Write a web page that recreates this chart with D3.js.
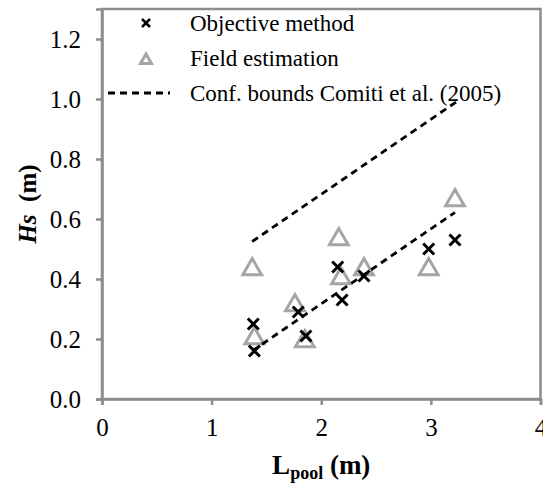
<!DOCTYPE html>
<html><head><meta charset="utf-8">
<script src="https://cdn.jsdelivr.net/npm/d3@7"></script>
<style>
html,body{margin:0;padding:0;background:#fff;}
svg{display:block;}
</style></head>
<body>
<svg id="chart" width="543" height="487"></svg>
<script>
// Data
const objX = [1.38, 1.39, 1.79, 1.86, 2.15, 2.19, 2.39, 2.98, 3.22];
const objY = [0.25, 0.16, 0.29, 0.21, 0.44, 0.33, 0.41, 0.50, 0.53];
const fieldX = [1.37, 1.39, 1.76, 1.85, 2.16, 2.18, 2.39, 2.98, 3.22];
const fieldY = [0.44, 0.21, 0.32, 0.20, 0.54, 0.41, 0.44, 0.44, 0.67];
const upperX = [1.37, 3.23];
const upperY = [0.525, 0.99];
const lowerX = [1.37, 3.22];
const lowerY = [0.16, 0.622];
const xTicks = [0, 1, 2, 3, 4];
const yTicks = [0, 0.2, 0.4, 0.6, 0.8, 1.0, 1.2];
const legendLabels = ["Objective method", "Field estimation", "Conf. bounds Comiti et al. (2005)"];

const FONT = "'Liberation Serif'";
const svg = d3.select("#chart");
const L = 102, R = 540.5, T = 9, B = 399;
const x = d3.scaleLinear().domain([0, 4]).range([L, R]);
const y = d3.scaleLinear().domain([0, 1.3]).range([B, T]);
const gray = "#8c8c8c";

// frame
svg.append("rect").attr("x", L).attr("y", T).attr("width", R - L).attr("height", B - T)
  .attr("fill", "none").attr("stroke", gray).attr("stroke-width", 2.5);

const yAxis = d3.axisLeft(y).tickValues(yTicks).tickFormat(d3.format(".1f")).tickSize(6).tickPadding(15);
const gy = svg.append("g").attr("transform", `translate(${L},0)`).call(yAxis);
const xAxis = d3.axisBottom(x).tickValues(xTicks).tickFormat(d3.format("d")).tickSize(6).tickPadding(13);
const gx = svg.append("g").attr("transform", `translate(0,${B})`).call(xAxis);
[gx, gy].forEach(g => {
  g.attr("font-family", FONT).attr("font-size", 25);
  g.select(".domain").attr("stroke", gray).attr("stroke-width", 2.5);
  g.selectAll(".tick line").attr("stroke", gray).attr("stroke-width", 2.5);
  g.selectAll(".tick text").attr("fill", "#000").attr("font-family", FONT).attr("font-size", 25);
});

// triangles
const triPath = (cx, cy, s) => `M${cx},${cy - s * 0.5}L${cx + s * 0.55},${cy + s * 0.45}L${cx - s * 0.55},${cy + s * 0.45}Z`;
svg.append("g").selectAll("path").data(fieldX).join("path")
  .attr("d", (d, i) => triPath(x(d), y(fieldY[i]), 17))
  .attr("fill", "none").attr("stroke", "#a5a5a5").attr("stroke-width", 3).attr("stroke-linejoin", "miter");

// crosses
const crossPath = (cx, cy, s) => `M${cx - s},${cy - s}L${cx + s},${cy + s}M${cx - s},${cy + s}L${cx + s},${cy - s}`;
svg.append("g").selectAll("path").data(objX).join("path")
  .attr("d", (d, i) => crossPath(x(d), y(objY[i]), 5.5))
  .attr("stroke", "#000").attr("stroke-width", 3).attr("fill", "none");

// dashed lines
const line = d3.line().x(d => x(d[0])).y(d => y(d[1]));
[[upperX, upperY], [lowerX, lowerY]].forEach(([xs, ys]) => {
  svg.append("path").attr("d", line(xs.map((v, i) => [v, ys[i]])))
    .attr("stroke", "#000").attr("stroke-width", 2.8).attr("fill", "none")
    .attr("stroke-dasharray", "7,5");
});

// legend
const lg = svg.append("g");
const rowsY = [23, 58, 93];
lg.append("path").attr("d", crossPath(146, rowsY[0], 4)).attr("stroke", "#000").attr("stroke-width", 2.5);
lg.append("path").attr("d", triPath(146, rowsY[1] + 1, 10)).attr("fill", "none").attr("stroke", "#a5a5a5").attr("stroke-width", 3);
lg.append("line").attr("x1", 108).attr("x2", 170).attr("y1", rowsY[2]).attr("y2", rowsY[2])
  .attr("stroke", "#000").attr("stroke-width", 2.8).attr("stroke-dasharray", "7,5");
lg.selectAll("text").data(legendLabels).join("text")
  .attr("x", 190).attr("y", (d, i) => rowsY[i]).attr("dy", "0.35em")
  .attr("font-family", FONT).attr("font-size", 23).text(d => d);

// axis titles
const xt = svg.append("text").attr("x", (L + R) / 2).attr("y", 474).attr("text-anchor", "middle")
  .attr("font-family", FONT).attr("font-size", 27).attr("font-weight", "bold");
xt.append("tspan").text("L");
xt.append("tspan").attr("dy", 5).attr("font-size", 18).text("pool");
xt.append("tspan").attr("dy", -5).text(" (m)");

const yt = svg.append("text").attr("transform", `translate(36,${(T + B) / 2}) rotate(-90)`)
  .attr("text-anchor", "middle").attr("font-family", FONT).attr("font-size", 25).attr("font-weight", "bold");
yt.append("tspan").attr("font-style", "italic").text("Hs");
yt.append("tspan").text("\u00a0 (m)");
</script>
</body></html>
